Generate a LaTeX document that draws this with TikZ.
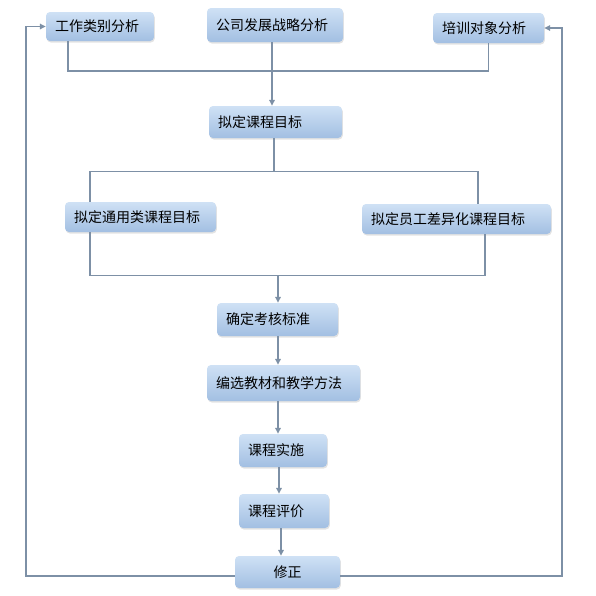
\documentclass[tikz,border=0pt]{standalone}
\usepackage{fontspec}
\newfontfamily\cjk{Noto Sans CJK SC}
\usetikzlibrary{arrows.meta,shadows,calc}
\definecolor{lnc}{HTML}{7D90A6}
\definecolor{boxtop}{HTML}{CFE1F5}
\definecolor{boxbot}{HTML}{A2BFE2}
\tikzset{
  fbox/.style={rounded corners=4pt, top color=boxtop, bottom color=boxbot,
    draw=none, inner xsep=9pt, inner ysep=0pt, align=left,
    font=\cjk\fontsize{14}{16}\selectfont,
    drop shadow={opacity=0.22, shadow xshift=0.8pt, shadow yshift=-1.5pt}},
  conn/.style={draw=lnc, line width=1.6pt},
  arr/.style={conn, -{Triangle[length=6pt,width=5.5pt]}}
}
\begin{document}
\begin{tikzpicture}[x=1pt,y=-1pt]
\useasboundingbox[fill=white] (0,0) rectangle (596,595);
% boxes
\node[fbox, text width=90pt,  minimum height=29pt] (A) at (100,26.5) {工作类别分析};
\node[fbox, text width=118pt, minimum height=34pt] (B) at (275,25) {公司发展战略分析};
\node[fbox, text width=93pt,  minimum height=30pt] (C) at (488.5,28) {培训对象分析};
\node[fbox, text width=115pt, minimum height=32pt] (D) at (275.5,122) {拟定课程目标};
\node[fbox, text width=133pt, minimum height=30pt] (E) at (140.5,217) {拟定通用类课程目标};
\node[fbox, text width=171pt, minimum height=30pt] (F) at (456.5,219) {拟定员工差异化课程目标};
\node[fbox, text width=103pt, minimum height=33pt] (G) at (277.5,319.5) {确定考核标准};
\node[fbox, text width=135pt, minimum height=36pt] (H) at (283.5,383) {编选教材和教学方法};
\node[fbox, text width=70pt,  minimum height=33pt] (I) at (283,450.5) {课程实施};
\node[fbox, text width=72pt,  minimum height=34pt] (J) at (284,511) {课程评价};
\node[fbox, text width=87pt,  minimum height=32pt, align=center] (K) at (287.5,572) {修正};
% junctions
\coordinate (j1) at (272,71);
\coordinate (j2) at (274,171.5);
\coordinate (j3) at (278,275.5);
\coordinate (sp1) at (278,0);
\coordinate (sp2) at (279,0);
\coordinate (sp3) at (281,0);
\coordinate (fbL) at (26,576);
\coordinate (fbR) at (562,576);
% top merge
\draw[conn] ([xshift=-32pt]A.south) |- (j1) -| (C.south);
\draw[arr] (B.south -| j1) -- (D.north -| j1);
% split
\draw[conn] (D.south -| j2) -- (j2);
\draw[conn] (j2) -| ([xshift=-50.5pt]E.north);
\draw[conn] (j2) -| ([xshift=21.5pt]F.north);
% merge
\draw[conn] ([xshift=-50.5pt]E.south) |- (j3) -| ([xshift=28.5pt]F.south);
\draw[arr] (j3) -- (G.north -| j3);
% chain
\draw[arr] (G.south -| sp1) -- (H.north -| sp1);
\draw[arr] (H.south -| sp1) -- (I.north -| sp1);
\draw[arr] (I.south -| sp2) -- (J.north -| sp2);
\draw[arr] (J.south -| sp3) -- (K.north -| sp3);
% feedback
\draw[arr] (K.west |- fbL) -- (fbL) |- (A.west);
\draw[arr] (K.east |- fbR) -- (fbR) |- (C.east);
\end{tikzpicture}
\end{document}
